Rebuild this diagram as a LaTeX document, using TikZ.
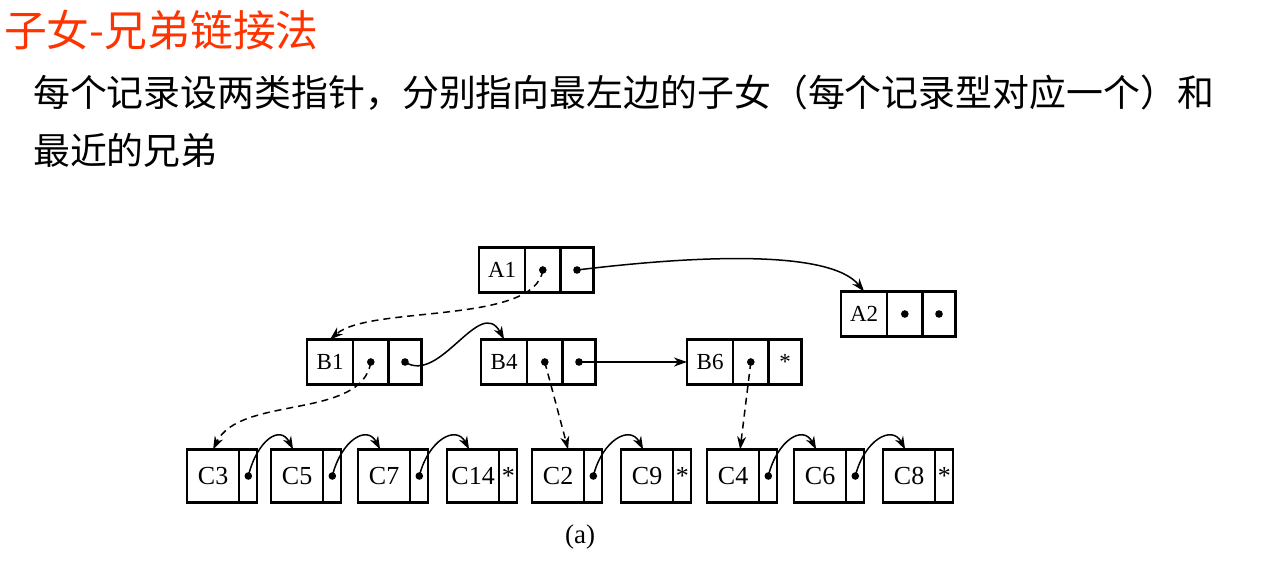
\documentclass[tikz,border=0pt]{standalone}
\usepackage{fontspec}
\setmainfont{Liberation Serif}
\newfontfamily\cjk{Noto Sans CJK SC}
\usetikzlibrary{arrows.meta}
\definecolor{titlered}{RGB}{255,51,0}

\tikzset{
  cellab/.style={draw, line width=1.2pt, minimum height=44pt, inner sep=0pt,
                 anchor=west, font=\fontsize{23}{25}\selectfont},
  cellc/.style={draw, line width=1.2pt, minimum height=52pt, inner sep=0pt,
                anchor=west, font=\fontsize{26}{28}\selectfont},
  frame/.style={line width=2pt},
  ptr/.style={line width=1.5pt, -{Stealth[length=13pt,width=9pt,inset=4pt]}},
  dptr/.style={ptr, dash pattern=on 7pt off 5pt},
  heading/.style={anchor=west, inner sep=0pt, text=titlered,
                  font=\cjk\fontsize{42.8}{46}\selectfont},
  bodytext/.style={anchor=west, inner sep=0pt, font=\cjk\fontsize{36.9}{42}\selectfont},
}

% record with a key cell and two pointer cells
\newcommand\recABC[5]{%
  \node[cellab, minimum width=45pt] (#1) at (#2,#3) {#4};
  \node[cellab, minimum width=34pt] (#1p) at (#1.east) {};
  \node[cellab, minimum width=32pt] (#1q) at (#1p.east) {#5};
  \draw[frame] (#1.north west) rectangle (#1q.south east);
}
% record with a key cell and one sibling pointer cell
\newcommand\recC[4]{%
  \node[cellc, minimum width=51pt] (#1) at (#2,476) {#3};
  \node[cellc, minimum width=17pt] (#1p) at (#1.east) {#4};
  \draw[frame] (#1.north west) rectangle (#1p.south east);
}

\begin{document}
\begin{tikzpicture}[x=1pt, y=-1pt]
\fill[white] (0,0) rectangle (1264,560);
\useasboundingbox (0,0) rectangle (1264,560);

% heading and explanation
\node[heading] (title) at (4,30) {子女-兄弟链接法};
\node[bodytext] (line1) at (33,93) {每个记录设两类指针，分别指向最左边的子女（每个记录型对应一个）和};
\node[bodytext] (line2) at (33,150) {最近的兄弟};

% records
\recABC{A1}{479}{270}{A1}{}
\recABC{A2}{841}{314}{A2}{}
\recABC{B1}{307}{362}{B1}{}
\recABC{B4}{481}{362}{B4}{}
\recABC{B6}{687}{362}{B6}{*}

\recC{C3}{187}{C3}{}
\recC{C5}{271}{C5}{}
\recC{C7}{358}{C7}{}
\recC{C14}{447}{C14}{*}
\recC{C2}{532}{C2}{}
\recC{C9}{621}{C9}{*}
\recC{C4}{707}{C4}{}
\recC{C6}{794}{C6}{}
\recC{C8}{883}{C8}{*}

% pointer dots
\foreach \n in {A1p,A1q,A2p,A2q,B1p,B1q,B4p,B4q,B6p,C3p,C5p,C7p,C2p,C4p,C6p}
  \fill (\n.center) circle (3.8pt);

% child pointers (dashed)
\draw[dptr] (A1p.center) .. controls (535,325) and (370,305) .. (B1.north);
\draw[dptr] (B1p.center) .. controls (362,420) and (240,395) .. (C3.north);
\draw[dptr] (B4p.center) -- ([xshift=10pt]C2.north);
\draw[dptr] (B6p.center) -- ([xshift=7pt]C4.north);

% sibling pointers
\draw[ptr] (A1q.center) .. controls (700,255) and (830,250) .. (A2.north);
\draw[ptr] (B1q.center) .. controls (440,385) and (480,295) .. (B4.north);
\draw[ptr] (B4q.center) -- (B6.west);
\foreach \a/\b in {C3/C5,C5/C7,C7/C14,C2/C9,C4/C6,C6/C8}
  \draw[ptr] (\a p.center) .. controls +(9,-36) and +(-13,-25) .. ([xshift=-4pt]\b.north);

\node[font=\fontsize{27}{30}\selectfont, inner sep=0pt] (cap) at (580,537) {(a)};
\end{tikzpicture}
\end{document}
